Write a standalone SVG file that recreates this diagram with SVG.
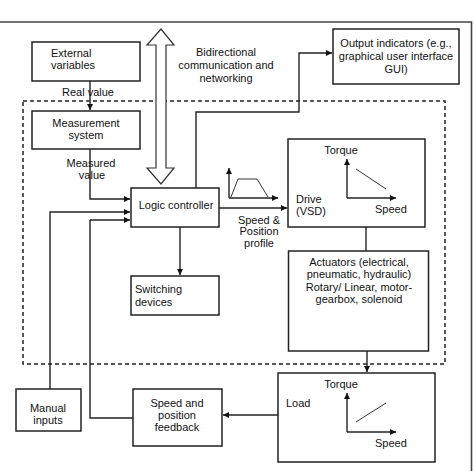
<svg xmlns="http://www.w3.org/2000/svg" width="474" height="471" viewBox="0 0 474 471">
<defs>
<marker id="ah" viewBox="0 0 10 10" refX="10" refY="5" markerWidth="7" markerHeight="6" markerUnits="userSpaceOnUse" orient="auto">
<path d="M0,0 L10,5 L0,10 z" fill="#111"/>
</marker>
</defs>
<style>
.box{fill:#fff;stroke:#222;stroke-width:1.5}
.ln{fill:none;stroke:#222;stroke-width:1.4}
.ar{fill:none;stroke:#222;stroke-width:1.4;marker-end:url(#ah)}
.thin{fill:none;stroke:#333;stroke-width:1}
text{font-family:"Liberation Sans",Arial,sans-serif;font-size:11px;fill:#111}
.c{text-anchor:middle}
</style>
<rect width="474" height="471" fill="#fff"/>
<g id="frame">
<path d="M0,22 H471.5 V471" fill="none" stroke="#444" stroke-width="1.6"/>
</g>
<g id="boundary">
<rect x="23" y="101" width="422" height="263" fill="none" stroke="#222" stroke-width="1.5" stroke-dasharray="4,3"/>
</g>
<g id="connectors">
<path class="ar" d="M90,81 V110"/>
<path class="ar" d="M90,149 V199 H130"/>
<path class="ar" d="M50,389 V212 H130"/>
<path class="ar" d="M90,220 V220 H130"/>
<path class="ln" d="M90,220 V418 H133"/>
<path class="ar" d="M180,227 V275"/>
<path class="ar" d="M196,188 V112 H299 V53 H332"/>
<path class="ar" d="M219,208 H287"/>
<path class="ln" d="M366,227 V251"/>
<path class="ar" d="M367,351 V372"/>
<path class="ar" d="M278,415 H223"/>
<polygon id="comm-arrow" points="161,29 174,45 166,45 166,168 174,168 161,184 147,168 156,168 156,45 147,45" fill="#fff" stroke="#333" stroke-width="1.2"/>
</g>
<g id="external">
<rect class="box" x="32" y="42" width="108" height="39"/>
<text x="51" y="57">External</text>
<text x="51" y="69">variables</text>
</g>
<text class="c" x="88" y="96">Real value</text>
<g id="measurement">
<rect class="box" x="32" y="111" width="108" height="38"/>
<text class="c" x="86" y="127">Measurement</text>
<text class="c" x="86" y="139">system</text>
</g>
<text class="c" x="91" y="167">Measured</text>
<text class="c" x="92" y="179">value</text>
<g id="comm-label">
<text class="c" x="226" y="56">Bidirectional</text>
<text class="c" x="226" y="69">communication and</text>
<text class="c" x="226" y="82">networking</text>
</g>
<g id="output">
<rect class="box" x="333" y="29" width="126" height="55"/>
<text class="c" x="396" y="47">Output indicators (e.g.,</text>
<text class="c" x="396" y="60">graphical user interface</text>
<text class="c" x="396" y="73">GUI)</text>
</g>
<g id="logic">
<rect class="box" x="131" y="188" width="88" height="39"/>
<text class="c" x="176" y="209">Logic controller</text>
</g>
<g id="switching">
<rect class="box" x="131" y="276" width="88" height="39"/>
<text x="135" y="293">Switching</text>
<text x="135" y="306">devices</text>
</g>
<g id="profile">
<path class="ar" d="M229,198 V168"/>
<path class="ar" d="M229,198 H278"/>
<path class="thin" d="M231,197 L238,179 H257 L268,197"/>
<text class="c" x="259" y="224">Speed &amp;</text>
<text class="c" x="259" y="235">Position</text>
<text class="c" x="259" y="247">profile</text>
</g>
<g id="drive">
<rect class="box" x="288" y="139" width="137" height="88"/>
<text class="c" x="341" y="154">Torque</text>
<path class="ar" d="M347,198 V159"/>
<path class="ar" d="M347,198 H396"/>
<path class="thin" d="M356,169 L386,189"/>
<text x="375" y="213">Speed</text>
<text x="296" y="203">Drive</text>
<text x="296" y="215">(VSD)</text>
</g>
<g id="actuators">
<rect class="box" x="288.5" y="251" width="140" height="100"/>
<text class="c" x="359" y="266">Actuators (electrical,</text>
<text class="c" x="359" y="278">pneumatic, hydraulic)</text>
<text class="c" x="359" y="291">Rotary/ Linear, motor-</text>
<text class="c" x="359" y="303">gearbox, solenoid</text>
</g>
<g id="manual">
<rect class="box" x="16" y="389" width="65" height="42"/>
<text class="c" x="48" y="412">Manual</text>
<text class="c" x="48" y="424">inputs</text>
</g>
<g id="feedback">
<rect class="box" x="133" y="389" width="89" height="57"/>
<text class="c" x="177" y="407">Speed and</text>
<text class="c" x="177" y="419">position</text>
<text class="c" x="177" y="431">feedback</text>
</g>
<g id="load">
<rect class="box" x="278" y="373" width="157" height="89"/>
<text x="286" y="407">Load</text>
<text class="c" x="341" y="388">Torque</text>
<path class="ar" d="M347,432 V393"/>
<path class="ar" d="M347,432 H396"/>
<path class="thin" d="M356,422 L386,403"/>
<text x="375" y="447">Speed</text>
</g>
</svg>
